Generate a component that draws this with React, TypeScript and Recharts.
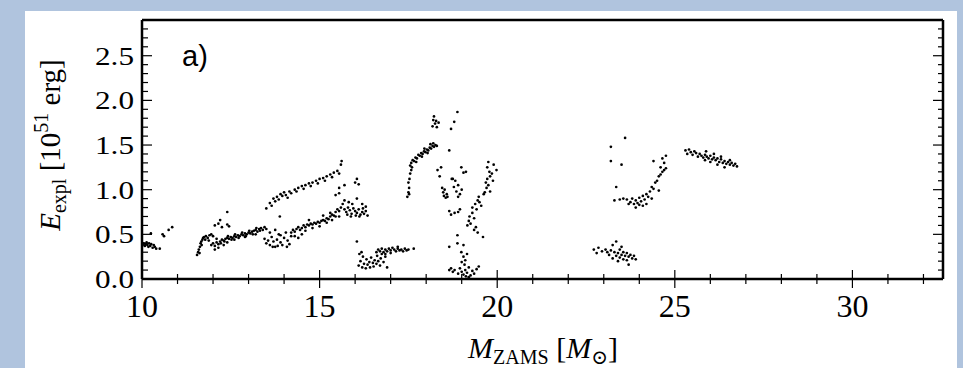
import { ScatterChart, Scatter, XAxis, YAxis } from 'recharts'

// tick values
const xTicks = [10, 11, 12, 13, 14, 15, 16, 17, 18, 19, 20, 21, 22, 23, 24, 25, 26, 27, 28, 29, 30, 31, 32]
const xLabelled = [10, 15, 20, 25, 30]
const yTicks = [0, 0.1, 0.2, 0.3, 0.4, 0.5, 0.6, 0.7, 0.8, 0.9, 1.0, 1.1, 1.2, 1.3, 1.4, 1.5, 1.6, 1.7, 1.8, 1.9, 2.0, 2.1, 2.2, 2.3, 2.4, 2.5, 2.6, 2.7, 2.8, 2.9]
const yLabelled = ['0.0', '0.5', '1.0', '1.5', '2.0', '2.5']

// [M_ZAMS, E_expl], grouped by mass range
const lowMass: [number, number][] = [
  [10.02, 0.38], [10.05, 0.4], [10.08, 0.37], [10.1, 0.39], [10.13, 0.41], [10.15, 0.38], [10.18, 0.36],
  [10.2, 0.4], [10.23, 0.37], [10.26, 0.39], [10.3, 0.35], [10.33, 0.38], [10.36, 0.36], [10.4, 0.34],
  [10.25, 0.51], [10.5, 0.34], [10.58, 0.5], [10.62, 0.48], [10.75, 0.55], [10.85, 0.58],
]

const firstBand: [number, number][] = [
  [11.55, 0.27], [11.58, 0.3], [11.6, 0.33], [11.62, 0.29], [11.63, 0.36], [11.65, 0.4], [11.67, 0.42],
  [11.68, 0.38], [11.7, 0.44], [11.72, 0.46], [11.75, 0.47], [11.8, 0.48], [11.85, 0.46], [11.9, 0.49],
  [11.95, 0.5], [12.0, 0.48], [11.78, 0.44], [11.88, 0.43],
  [11.95, 0.38], [12.0, 0.4], [12.05, 0.37], [12.1, 0.41], [12.15, 0.39], [12.2, 0.42], [12.25, 0.44],
  [12.3, 0.43], [12.35, 0.45], [12.4, 0.46], [12.45, 0.45], [12.5, 0.47], [12.55, 0.46], [12.6, 0.48],
  [12.65, 0.47], [12.7, 0.49], [12.75, 0.48], [12.8, 0.5], [12.85, 0.49], [12.9, 0.51], [12.95, 0.5],
  [13.0, 0.52], [13.05, 0.51], [13.1, 0.53], [13.15, 0.54], [13.2, 0.55], [13.25, 0.53], [13.3, 0.56],
  [13.35, 0.57], [13.4, 0.55], [13.45, 0.58], [13.5, 0.56],
  [12.05, 0.33], [12.15, 0.35], [12.3, 0.38], [12.1, 0.45], [12.4, 0.41], [12.6, 0.44], [12.9, 0.47], [13.2, 0.5],
  [12.05, 0.6], [12.15, 0.62], [12.25, 0.58], [12.4, 0.61], [12.45, 0.59], [12.4, 0.75], [12.2, 0.66],
  [12.22, 0.4], [12.32, 0.42], [12.52, 0.44], [12.72, 0.46], [12.92, 0.48], [13.12, 0.5], [13.32, 0.54],
  [12.42, 0.48], [12.62, 0.5], [12.82, 0.52], [13.02, 0.54], [13.22, 0.57],
]

const lowerScatter: [number, number][] = [
  [13.45, 0.45], [13.5, 0.4], [13.55, 0.43], [13.6, 0.38], [13.65, 0.47], [13.7, 0.42], [13.75, 0.36],
  [13.8, 0.44], [13.85, 0.5], [13.9, 0.41], [13.95, 0.38], [14.0, 0.46], [14.05, 0.52], [14.1, 0.43],
  [14.15, 0.39], [13.6, 0.52], [13.75, 0.55], [13.9, 0.49], [14.2, 0.48], [13.68, 0.36], [13.82, 0.37], [14.08, 0.36],
]

const middleBand: [number, number][] = [
  [14.2, 0.52], [14.25, 0.55], [14.3, 0.53], [14.35, 0.56], [14.4, 0.58], [14.45, 0.55], [14.5, 0.57],
  [14.55, 0.6], [14.6, 0.58], [14.65, 0.61], [14.7, 0.6], [14.75, 0.62], [14.8, 0.61], [14.85, 0.63],
  [14.9, 0.62], [14.95, 0.64], [15.0, 0.63], [15.05, 0.65], [15.1, 0.66], [15.15, 0.65], [15.2, 0.68],
  [15.25, 0.67], [15.3, 0.7], [15.35, 0.72], [15.4, 0.71], [15.45, 0.75], [15.5, 0.78], [15.55, 0.76],
  [15.6, 0.8], [15.65, 0.84], [15.7, 0.88],
  [14.3, 0.48], [14.5, 0.5], [14.6, 0.54], [14.8, 0.57], [15.0, 0.59], [15.2, 0.63], [15.35, 0.66],
  [15.45, 0.7], [14.4, 0.46], [14.7, 0.66], [15.1, 0.71], [15.3, 0.74], [15.55, 0.7],
]

const upperBand: [number, number][] = [
  [13.5, 0.79], [13.6, 0.85], [13.65, 0.82], [13.7, 0.9], [13.75, 0.87], [13.8, 0.92], [13.85, 0.89],
  [13.9, 0.95], [13.95, 0.93], [14.0, 0.97], [14.05, 0.94], [14.1, 0.91], [14.15, 0.98], [14.2, 0.96],
  [14.3, 1.0], [14.35, 0.98], [14.4, 1.02], [14.5, 1.04], [14.55, 1.01], [14.6, 1.05], [14.7, 1.07],
  [14.75, 1.04], [14.8, 1.08], [14.9, 1.1], [14.95, 1.07], [15.0, 1.12], [15.1, 1.13], [15.15, 1.1],
  [15.2, 1.15], [15.3, 1.17], [15.35, 1.14], [15.4, 1.19], [15.5, 1.21], [15.55, 1.18], [15.6, 1.28],
  [15.62, 1.32], [13.88, 0.7], [15.55, 1.02], [15.45, 0.94],
]

const bendCluster: [number, number][] = [
  [15.7, 0.78], [15.75, 0.75], [15.8, 0.8], [15.85, 0.77], [15.9, 0.73], [15.95, 0.79], [16.0, 0.76],
  [16.05, 0.74], [16.1, 0.78], [16.15, 0.72], [16.2, 0.75], [16.25, 0.73], [16.3, 0.76], [16.35, 0.71],
  [15.78, 0.72], [15.88, 0.7], [16.02, 0.71], [16.12, 0.7], [16.22, 0.79], [16.3, 0.81], [15.92, 0.84],
  [15.82, 0.86], [16.0, 1.08], [16.05, 1.12], [16.1, 1.06], [15.7, 1.05], [15.55, 0.96], [16.05, 0.9], [16.2, 0.84],
]

const weakBlob: [number, number][] = [
  [16.1, 0.15], [16.15, 0.2], [16.2, 0.13], [16.22, 0.25], [16.25, 0.17], [16.3, 0.12], [16.32, 0.22],
  [16.35, 0.16], [16.4, 0.19], [16.42, 0.13], [16.45, 0.24], [16.5, 0.18], [16.52, 0.14], [16.55, 0.21],
  [16.6, 0.17], [16.62, 0.26], [16.65, 0.2], [16.7, 0.15], [16.72, 0.23], [16.75, 0.28], [16.8, 0.19],
  [16.85, 0.25], [16.9, 0.13], [16.12, 0.28], [16.18, 0.3], [16.05, 0.42],
  [16.6, 0.3], [16.65, 0.33], [16.7, 0.31], [16.75, 0.34], [16.8, 0.3], [16.85, 0.33], [16.9, 0.31],
  [16.95, 0.34], [17.0, 0.32], [17.05, 0.35], [17.1, 0.33], [17.15, 0.31], [17.2, 0.34], [17.25, 0.32],
  [17.3, 0.33], [17.35, 0.31], [17.4, 0.34], [17.45, 0.32], [17.5, 0.33], [16.85, 0.28], [17.0, 0.29],
  [17.2, 0.36], [17.65, 0.34],
]

const peakRegion: [number, number][] = [
  [17.47, 0.92], [17.5, 0.97], [17.52, 1.02], [17.5, 1.08], [17.53, 1.12], [17.55, 1.18], [17.52, 0.95],
  [17.58, 1.22], [17.55, 1.27], [17.6, 1.25],
  [17.58, 1.3], [17.62, 1.33], [17.66, 1.32], [17.7, 1.36], [17.74, 1.35], [17.78, 1.39], [17.82, 1.38],
  [17.86, 1.41], [17.9, 1.4], [17.94, 1.43], [17.98, 1.42], [18.02, 1.45], [18.06, 1.44], [18.1, 1.47],
  [18.14, 1.46], [18.18, 1.49], [18.22, 1.48], [18.26, 1.5], [18.3, 1.49], [17.72, 1.31], [17.88, 1.37],
  [18.04, 1.41], [18.2, 1.52], [17.95, 1.46], [18.12, 1.51],
  [18.18, 1.71], [18.2, 1.78], [18.22, 1.82], [18.25, 1.74], [18.28, 1.77], [18.3, 1.7], [18.35, 1.75],
  [18.88, 1.87], [18.79, 1.76], [18.7, 1.68], [18.65, 1.44],
]

const scatterZone: [number, number][] = [
  [18.32, 1.22], [18.42, 1.25], [18.38, 1.15], [18.45, 1.02], [18.48, 0.97], [18.5, 0.93], [18.55, 0.91],
  [18.52, 1.0], [18.58, 0.95], [18.6, 0.92], [18.75, 1.12], [18.82, 1.1], [18.78, 1.03], [18.85, 0.98],
  [18.9, 1.05], [18.95, 0.95], [19.0, 1.0], [18.9, 0.92], [18.99, 1.25], [19.12, 1.2], [19.05, 1.19],
  [18.65, 0.76], [18.7, 0.72], [18.8, 0.74], [18.9, 0.75], [18.95, 0.78], [18.72, 1.12],
  [18.88, 0.49], [18.65, 0.36], [18.88, 0.4], [19.05, 0.38], [18.99, 0.3], [19.05, 0.25], [19.1, 0.21],
  [19.0, 0.19], [19.15, 0.28], [19.08, 0.16], [18.65, 0.1], [18.7, 0.12], [18.75, 0.08], [18.8, 0.1],
  [18.9, 0.06], [18.95, 0.12], [19.0, 0.08], [19.05, 0.05], [19.1, 0.1], [19.15, 0.07], [19.2, 0.13],
  [19.25, 0.04], [19.3, 0.09], [19.35, 0.06], [19.42, 0.11], [19.48, 0.14], [19.2, 0.02], [19.12, 0.03],
  [19.16, 0.6], [19.2, 0.65], [19.25, 0.62], [19.22, 0.7], [19.3, 0.74], [19.35, 0.68], [19.3, 0.8],
  [19.38, 0.84], [19.42, 0.78], [19.45, 0.88], [19.5, 0.86], [19.48, 0.92], [19.55, 0.82], [19.4, 0.58],
  [19.45, 0.52], [19.6, 0.47], [19.35, 0.55], [19.65, 0.97], [19.7, 1.02], [19.68, 1.08], [19.75, 1.05],
  [19.72, 1.12], [19.8, 1.15], [19.78, 1.2], [19.85, 1.18], [19.72, 1.25], [19.75, 1.31], [19.9, 1.28],
  [19.98, 1.22], [19.88, 1.1], [19.8, 0.98], [19.62, 0.95],
]

const highGroup: [number, number][] = [
  [23.2, 1.48], [23.6, 1.58], [23.2, 1.32], [23.5, 1.28], [23.35, 1.03],
  [23.3, 0.88], [23.45, 0.89], [23.55, 0.9], [23.65, 0.89], [23.75, 0.86], [23.8, 0.9], [23.85, 0.84],
  [23.9, 0.88], [23.95, 0.85], [24.0, 0.91], [24.05, 0.87], [24.1, 0.82], [24.1, 0.93], [24.15, 0.89],
  [24.2, 0.95], [24.25, 0.92], [24.3, 0.98], [24.35, 1.03], [24.4, 1.01], [24.45, 1.08], [24.5, 1.1],
  [24.55, 1.15], [24.6, 1.17], [24.65, 1.2], [24.7, 1.22], [24.6, 1.25], [24.75, 1.24], [24.4, 1.32],
  [24.65, 1.35], [24.75, 1.38], [24.7, 1.3], [23.9, 0.8], [24.0, 0.83], [24.2, 0.84], [24.35, 0.9],
  [23.7, 0.84], [24.55, 0.99],
  [22.72, 0.33], [22.8, 0.29], [22.85, 0.35], [22.95, 0.31], [23.05, 0.33], [23.1, 0.3], [23.15, 0.27],
  [23.2, 0.32], [23.25, 0.38], [23.3, 0.3], [23.35, 0.26], [23.35, 0.42], [23.4, 0.29], [23.45, 0.33],
  [23.45, 0.24], [23.5, 0.27], [23.55, 0.3], [23.55, 0.22], [23.6, 0.26], [23.65, 0.29], [23.65, 0.21],
  [23.7, 0.25], [23.75, 0.27], [23.8, 0.23], [23.85, 0.26], [23.7, 0.16], [23.25, 0.23], [23.4, 0.2],
  [23.9, 0.22], [23.5, 0.36],
]

const lastStrip: [number, number][] = [
  [25.3, 1.44], [25.35, 1.4], [25.4, 1.45], [25.45, 1.42], [25.5, 1.39], [25.55, 1.43], [25.6, 1.41],
  [25.65, 1.37], [25.7, 1.4], [25.75, 1.38], [25.8, 1.36], [25.85, 1.39], [25.9, 1.37], [25.95, 1.35],
  [26.0, 1.38], [26.05, 1.34], [26.1, 1.36], [26.15, 1.33], [26.2, 1.35], [26.25, 1.31], [26.3, 1.34],
  [26.35, 1.3], [26.4, 1.32], [26.45, 1.29], [26.5, 1.31], [26.55, 1.28], [26.6, 1.3], [26.65, 1.27],
  [26.7, 1.29], [26.75, 1.26], [25.88, 1.43], [26.0, 1.31], [26.2, 1.28], [26.4, 1.25], [26.55, 1.33],
  [25.85, 1.33], [26.1, 1.4], [26.3, 1.37],
]

const points = [
  ...lowMass, ...firstBand, ...lowerScatter, ...middleBand, ...upperBand, ...bendCluster,
  ...weakBlob, ...peakRegion, ...scatterZone, ...highGroup, ...lastStrip,
].map(([m, e]) => ({ m, e }))

const SERIF = '"Liberation Serif", "DejaVu Serif", serif'
const AX = 2.5

const isMajorY = (v: number) => Math.abs(v * 2 - Math.round(v * 2)) < 1e-6

const BottomTick = ({ x, y, payload }: any) => {
  const major = xLabelled.includes(payload.value)
  const len = major ? 9 : 5
  return (
    <g>
      <line x1={x} x2={x} y1={y - len} y2={y + len} stroke="#000" strokeWidth={1.2} />
      {major && (
        <text x={x} y={y + 38} textAnchor="middle" fontFamily={SERIF} fontSize={32} fill="#000">
          {payload.value}
        </text>
      )}
    </g>
  )
}

const TopTick = ({ x, y, payload }: any) => {
  const len = xLabelled.includes(payload.value) ? 9 : 5
  return <line x1={x} x2={x} y1={y} y2={y + len} stroke="#000" strokeWidth={1.2} />
}

const LeftTick = ({ x, y, payload }: any) => {
  const major = isMajorY(payload.value)
  const label = yLabelled[Math.round(payload.value * 2)]
  return (
    <g>
      <line x1={x} x2={x + (major ? 10 : 6)} y1={y} y2={y} stroke="#000" strokeWidth={1.2} />
      {major && (
        <text
          transform={`translate(${x - 8},${y}) scale(1.2,1)`}
          textAnchor="end"
          dominantBaseline="central"
          fontFamily={SERIF}
          fontSize={26}
          fill="#000"
        >
          {label}
        </text>
      )}
    </g>
  )
}

const RightTick = ({ x, y, payload }: any) => {
  const len = isMajorY(payload.value) ? 10 : 5
  return <line x1={x - len} x2={x} y1={y} y2={y} stroke="#000" strokeWidth={1.2} />
}

const YTitle = () => (
  <text transform="translate(60,145) rotate(-90)" textAnchor="middle" fontFamily={SERIF} fontSize={29} fill="#000">
    <tspan fontStyle="italic">E</tspan>
    <tspan fontSize={20} dy={6}>expl</tspan>
    <tspan dy={-6}> [10</tspan>
    <tspan fontSize={20} dy={-12}>51</tspan>
    <tspan dy={12}> erg]</tspan>
  </text>
)

const XTitle = () => (
  <text x={543} y={358} textAnchor="middle" fontFamily={SERIF} fontSize={30} fill="#000">
    <tspan fontStyle="italic">M</tspan>
    <tspan fontSize={20} dy={6}>ZAMS</tspan>
    <tspan dy={-6}> [</tspan>
    <tspan fontStyle="italic">M</tspan>
    <tspan fontSize={20} dy={6}>⊙</tspan>
    <tspan dy={-6}>]</tspan>
  </text>
)

const Dot = (props: any) => <circle cx={props.cx} cy={props.cy} r={1.35} fill="#000" />

export default function App() {
  return (
    <div style={{ position: 'absolute', left: 0, top: 0, width: 963, height: 368, background: '#b0c4de', overflow: 'hidden' }}>
      <div style={{ position: 'absolute', left: 25, top: 11, width: 932, height: 357, background: '#fff' }} />
      <div style={{ position: 'absolute', left: 0, top: 0 }}>
        <ScatterChart width={963} height={368} margin={{ top: 19, right: 19, bottom: 88, left: 141 }}>
          <XAxis
            type="number"
            dataKey="m"
            domain={[10, 32.55]}
            ticks={xTicks}
            interval={0}
            allowDataOverflow
            height={1}
            tickSize={0}
            tickMargin={0}
            tickLine={false}
            axisLine={{ stroke: '#000', strokeWidth: AX }}
            tick={<BottomTick />}
            label={<XTitle />}
          />
          <XAxis
            xAxisId="top"
            orientation="top"
            type="number"
            domain={[10, 32.55]}
            ticks={xTicks}
            interval={0}
            allowDataOverflow
            height={1}
            tickSize={0}
            tickMargin={0}
            tickLine={false}
            axisLine={{ stroke: '#000', strokeWidth: AX }}
            tick={<TopTick />}
          />
          <YAxis
            type="number"
            dataKey="e"
            domain={[0, 2.9]}
            ticks={yTicks}
            interval={0}
            allowDataOverflow
            width={1}
            tickSize={0}
            tickMargin={0}
            tickLine={false}
            axisLine={{ stroke: '#000', strokeWidth: AX }}
            tick={<LeftTick />}
            label={<YTitle />}
          />
          <YAxis
            yAxisId="right"
            orientation="right"
            type="number"
            domain={[0, 2.9]}
            ticks={yTicks}
            interval={0}
            allowDataOverflow
            width={1}
            tickSize={0}
            tickMargin={0}
            tickLine={false}
            axisLine={{ stroke: '#000', strokeWidth: AX }}
            tick={<RightTick />}
          />
          <Scatter data={points} shape={<Dot />} isAnimationActive={false} />
        </ScatterChart>
        <svg width={963} height={368} style={{ position: 'absolute', left: 0, top: 0, pointerEvents: 'none' }}>
          <text x={182} y={66} fontFamily='"Liberation Sans", Arial, sans-serif' fontSize={29} fill="#000">
            a)
          </text>
        </svg>
      </div>
    </div>
  )
}
